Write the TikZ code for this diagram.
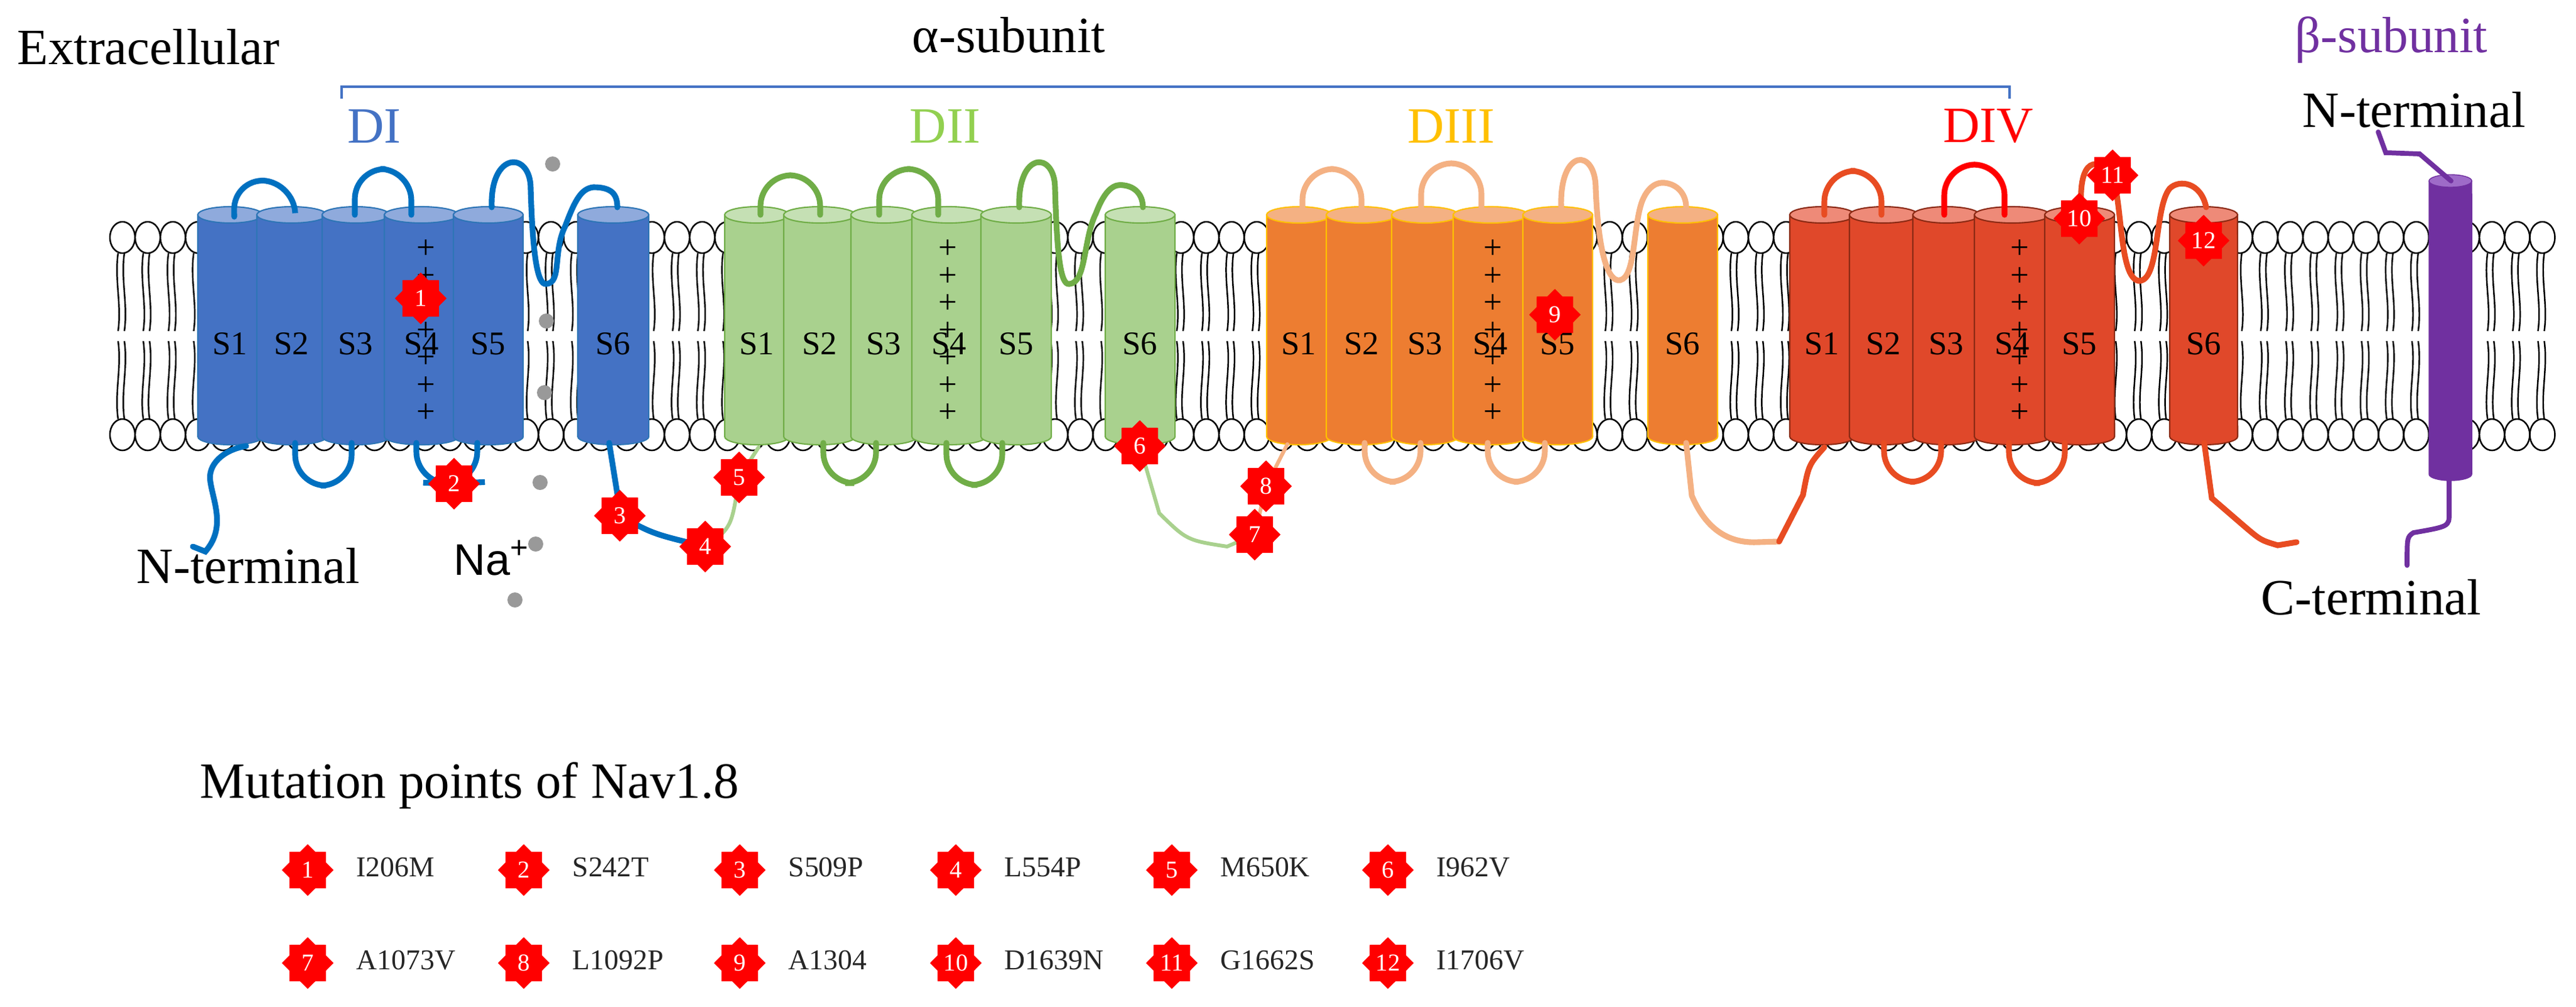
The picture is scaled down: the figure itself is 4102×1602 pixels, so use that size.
\documentclass[tikz,border=0pt]{standalone}
\usepackage{fontspec}
\setmainfont{Liberation Serif}
\newfontfamily\sansf{Liberation Sans}
\usetikzlibrary{shapes.geometric}
\definecolor{dIbody}{HTML}{4472C4}\definecolor{dIedge}{HTML}{2E75B6}\definecolor{dItop}{HTML}{8FAADC}\definecolor{dIloop}{HTML}{0070C0}
\definecolor{dIIbody}{HTML}{A9D18E}\definecolor{dIIedge}{HTML}{70AD47}\definecolor{dIItop}{HTML}{C5E0B4}\definecolor{dIIloop}{HTML}{70AD47}
\definecolor{dIIIbody}{HTML}{ED7D31}\definecolor{dIIIedge}{HTML}{FFC000}\definecolor{dIIItop}{HTML}{F4B183}\definecolor{dIIIloop}{HTML}{F4B183}
\definecolor{dIVbody}{HTML}{E0482A}\definecolor{dIVedge}{HTML}{8B2A14}\definecolor{dIVtop}{HTML}{EE8A78}\definecolor{dIVloop}{HTML}{E84C22}
\definecolor{purp}{HTML}{7030A0}\definecolor{purptop}{HTML}{9E6BC8}
\definecolor{lblII}{HTML}{92D050}\definecolor{lblIII}{HTML}{FFC000}
\newcommand\mycyl[5]{%
 \filldraw[fill=#3,draw=#4,line width=0.6pt] (#1,342) -- (#1,695) arc[start angle=180,end angle=360,x radius={(#2-#1)*0.005cm},y radius=0.13cm] -- (#2,342) -- cycle;
 \filldraw[fill=#5,draw=#4,line width=0.6pt] ({(#1+#2)/2},342) ellipse[x radius={(#2-#1)*0.005cm},y radius=0.13cm];}
\begin{document}
\begin{tikzpicture}[x=0.01cm,y=-0.01cm,
  big/.style={font=\fontsize{23}{27}\selectfont},
  seg/.style={font=\fontsize{15}{18}\selectfont},
  pl/.style={font=\fontsize{15}{18}\selectfont,inner sep=0},
  leg/.style={font=\fontsize{13}{16}\selectfont,anchor=base west,inner sep=0,text=black!85},
  mut/.style={star,star points=8,star point ratio=1.3,fill=red,draw=none,minimum size=0.82cm,inner sep=0,text=white,font=\fontsize{11}{12}\selectfont},
  loop/.style={line width=2.6pt,rounded corners=14,line cap=round},
  thin/.style={line width=1.7pt,line cap=round},
  dot/.style={circle,fill=black!40,minimum size=0.24cm,inner sep=0}]
\useasboundingbox (0,0) rectangle (4102,1602);
% lipid bilayer
\foreach \i in {0,...,96}{
  \pgfmathsetmacro\x{195+40.14*\i}
  \draw[line width=0.7pt] ({\x-7},403) .. controls ({\x-13},445) and ({\x-1},485) .. ({\x-7},527);
  \draw[line width=0.7pt] ({\x+3},403) .. controls ({\x-3},445) and ({\x+9},485) .. ({\x+3},527);
  \draw[line width=0.7pt] ({\x-7},543) .. controls ({\x-1},585) and ({\x-13},625) .. ({\x-7},667);
  \draw[line width=0.7pt] ({\x+3},543) .. controls ({\x+9},585) and ({\x-3},625) .. ({\x+3},667);
  \draw[line width=0.7pt,fill=white] (\x,378) ellipse[x radius=0.2cm,y radius=0.25cm];
  \draw[line width=0.7pt,fill=white] (\x,692) ellipse[x radius=0.2cm,y radius=0.25cm];
}
% cylinders
\mycyl{315}{418}{dIbody}{dIedge}{dItop}\mycyl{409}{520}{dIbody}{dIedge}{dItop}\mycyl{513}{620}{dIbody}{dIedge}{dItop}
\mycyl{612}{730}{dIbody}{dIedge}{dItop}\mycyl{722}{833}{dIbody}{dIedge}{dItop}\mycyl{920}{1033}{dIbody}{dIedge}{dItop}
\mycyl{1154}{1256}{dIIbody}{dIIedge}{dIItop}\mycyl{1248}{1362}{dIIbody}{dIIedge}{dIItop}\mycyl{1355}{1460}{dIIbody}{dIIedge}{dIItop}
\mycyl{1452}{1570}{dIIbody}{dIIedge}{dIItop}\mycyl{1562}{1674}{dIIbody}{dIIedge}{dIItop}\mycyl{1760}{1871}{dIIbody}{dIIedge}{dIItop}
\mycyl{2017}{2120}{dIIIbody}{dIIIedge}{dIIItop}\mycyl{2112}{2224}{dIIIbody}{dIIIedge}{dIIItop}\mycyl{2216}{2322}{dIIIbody}{dIIIedge}{dIIItop}
\mycyl{2314}{2433}{dIIIbody}{dIIIedge}{dIIItop}\mycyl{2425}{2536}{dIIIbody}{dIIIedge}{dIIItop}\mycyl{2624}{2735}{dIIIbody}{dIIIedge}{dIIItop}
\mycyl{2850}{2953}{dIVbody}{dIVedge}{dIVtop}\mycyl{2945}{3054}{dIVbody}{dIVedge}{dIVtop}\mycyl{3046}{3152}{dIVbody}{dIVedge}{dIVtop}
\mycyl{3144}{3264}{dIVbody}{dIVedge}{dIVtop}\mycyl{3256}{3367}{dIVbody}{dIVedge}{dIVtop}\mycyl{3455}{3563}{dIVbody}{dIVedge}{dIVtop}
% beta subunit cylinder
\filldraw[fill=purp,draw=purp] (3868,288) -- (3868,755) arc[start angle=180,end angle=360,x radius=0.34cm,y radius=0.1cm] -- (3936,288) -- cycle;
\filldraw[fill=purptop,draw=purp] (3902,288) ellipse[x radius=0.34cm,y radius=0.1cm];
% segment labels
\foreach \c/\t in {366/S1,464/S2,566/S3,671/S4,777/S5,976/S6,1205/S1,1305/S2,1407/S3,1511/S4,1618/S5,1815/S6,2068/S1,2168/S2,2269/S3,2373/S4,2480/S5,2679/S6,2901/S1,2999/S2,3099/S3,3204/S4,3311/S5,3509/S6}
  \node[seg] at (\c,547) {\t};
\foreach \c in {678,1509,2377,3216}
  \foreach \k in {0,...,6}
    \node[pl] at (\c,{397+43.5*\k}) {+};
% star positions
\coordinate (p1) at (670,475);\coordinate (p2) at (723,770);\coordinate (p3) at (987,821);\coordinate (p4) at (1123,870);
\coordinate (p5) at (1177,760);\coordinate (p6) at (1815,710);\coordinate (p7) at (1998,851);\coordinate (p8) at (2016,774);
\coordinate (p9) at (2476,501);\coordinate (p10) at (3311,348);\coordinate (p11) at (3364,279);\coordinate (p12) at (3509,383);
\coordinate (ntA) at (307,870);\coordinate (jn) at (2833,862);\coordinate (ctA) at (3657,863);
\coordinate (ntB) at (3787,210);\coordinate (ctB) at (3833,900);
% DI loops
\begin{scope}[draw=dIloop]
\draw[loop] (373,345) -- (372,285) -- (468,290) -- (470,338);
\draw[loop] (565,342) -- (565,268) -- (655,270) -- (655,342);
\draw[loop,rounded corners=0] (783,330) .. controls (780,240) and (845,240) .. (845,300) .. controls (848,400) and (855,455) .. (870,452) .. controls (895,450) and (880,400) .. (900,360) .. controls (915,320) and (925,300) .. (945,298) .. controls (975,298) and (983,310) .. (983,330);
\draw[loop] (470,705) -- (470,773) -- (560,773) -- (560,705);
\draw[loop] (663,705) -- (663,768) -- (p2) -- (760,768) -- (760,705);
\draw[loop,rounded corners=0] (ntA) -- (327,878) .. controls (360,840) and (340,800) .. (335,767) .. controls (330,740) and (355,716) .. (392,710);
\draw[loop,rounded corners=0] (970,705) -- (983,786) -- (p3) .. controls (1040,850) .. (p4);
\end{scope}
\draw[thin,dIIbody] (p4) .. controls (1165,840) .. (p5) -- (1208,712);
% DII loops
\begin{scope}[draw=dIIloop]
\draw[loop] (1211,342) -- (1211,279) -- (1306,279) -- (1306,342);
\draw[loop] (1400,342) -- (1400,269) -- (1494,269) -- (1494,342);
\draw[loop,rounded corners=0] (1623,330) .. controls (1620,240) and (1680,240) .. (1680,300) .. controls (1683,400) and (1688,455) .. (1703,452) .. controls (1730,450) and (1725,380) .. (1745,340) .. controls (1760,300) and (1775,292) .. (1790,295) .. controls (1812,298) and (1820,315) .. (1820,330);
\draw[loop] (1311,705) -- (1311,769) -- (1395,769) -- (1395,705);
\draw[loop] (1507,705) -- (1507,772) -- (1596,772) -- (1596,705);
\end{scope}
\draw[thin,dIIbody] (1815,700) -- (p6) -- (1846,817) .. controls (1890,860) .. (1954,870) -- (p7);
\draw[thin,dIIIloop] (p7) -- (p8) -- (2050,707);
% DIII loops
\begin{scope}[draw=dIIIloop]
\draw[loop] (2074,342) -- (2074,269) -- (2168,269) -- (2168,342);
\draw[loop] (2263,342) -- (2263,260) -- (2359,260) -- (2359,342);
\draw[loop,rounded corners=0] (2486,330) .. controls (2483,235) and (2541,235) .. (2541,300) .. controls (2545,400) and (2560,450) .. (2580,446) .. controls (2605,440) and (2600,360) .. (2615,320) .. controls (2625,295) and (2640,290) .. (2650,291) .. controls (2672,293) and (2685,310) .. (2685,330);
\draw[loop] (2173,705) -- (2173,767) -- (2262,767) -- (2262,705);
\draw[loop] (2369,705) -- (2369,767) -- (2460,767) -- (2460,705);
\draw[loop,rounded corners=0] (2685,705) -- (2694,789) .. controls (2720,850) and (2760,865) .. (2800,863) -- (jn);
\end{scope}
% DIV loops
\begin{scope}[draw=dIVloop]
\draw[loop] (2905,342) -- (2905,272) -- (2996,272) -- (2996,342);
\draw[loop,draw=red] (3096,342) -- (3096,262) -- (3192,262) -- (3192,342);
\draw[loop] (3000,705) -- (3000,767) -- (3091,767) -- (3091,705);
\draw[loop] (3199,705) -- (3199,769) -- (3288,769) -- (3288,705);
\draw[loop,rounded corners=0] (jn) -- (2871,788) .. controls (2880,740) .. (2905,712);
\draw[loop,rounded corners=0] (3314,330) .. controls (3310,250) and (3340,250) .. (p11) .. controls (3380,330) and (3375,440) .. (3405,447) .. controls (3440,450) and (3430,330) .. (3455,300) .. controls (3470,285) and (3505,290) .. (3513,330);
\draw[loop,rounded corners=0] (3510,705) -- (3522,793) -- (3573,837) .. controls (3600,860) .. (3627,868) -- (ctA);
\end{scope}
% beta subunit termini
\draw[line width=2.2pt,purp,line cap=round] (ntB) -- (3799,243) -- (3853,245) -- (3903,288);
\draw[line width=2.2pt,purp,line cap=round] (3900,765) -- (3900,817) .. controls (3900,838) .. (3843,848) .. controls (3833,855) .. (ctB);
% stars
\foreach \n in {1,...,12} \node[mut] (m\n) at (p\n) {\n};
% Na dots
\foreach \p [count=\j] in {(880,261),(870,511),(867,625),(860,768),(853,866),(820,955)} \node[dot] (d\j) at \p {};
\node[anchor=base west,inner sep=0,font=\sansf\fontsize{20}{24}\selectfont] (na) at (722,915) {Na\textsuperscript{+}};
% texts
\node[big,anchor=base west,inner sep=0] (ext) at (27,102) {Extracellular};
\node[big,anchor=base west,inner sep=0] (alpha) at (1452,83) {α-subunit};
\node[big,anchor=base west,inner sep=0,text=purp] (beta) at (3654,83) {β-subunit};
\draw[dIbody,line width=0.9pt] (544,157) -- (544,138) -- (3200,138) -- (3200,157);
\node[big,text=dIbody] (DI) at (596,201) {DI};
\node[big,text=lblII] (DII) at (1505,201) {DII};
\node[big,text=lblIII] (DIII) at (2311,201) {DIII};
\node[big,text=red] (DIV) at (3166,201) {DIV};
\node[big,anchor=base west,inner sep=0] (ntl) at (217,928) {N-terminal};
\node[big,anchor=base west,inner sep=0] (ntr) at (3666,202) {N-terminal};
\node[big,anchor=base west,inner sep=0] (ctl) at (3600,978) {C-terminal};
% legend
\node[big,anchor=base west,inner sep=0] (legt) at (318,1270) {Mutation points of Nav1.8};
\foreach \t [count=\k] in {I206M,S242T,S509P,L554P,M650K,I962V}{
  \node[mut] (l\k) at ({490+344*(\k-1)},1385) {\k};
  \node[leg] at ({567+344*(\k-1)},1395) {\t};}
\foreach \t [count=\k] in {A1073V,L1092P,A1304,D1639N,G1662S,I1706V}{
  \pgfmathtruncatemacro\nn{\k+6}
  \node[mut] (l\nn) at ({490+344*(\k-1)},1533) {\nn};
  \node[leg] at ({567+344*(\k-1)},1543) {\t};}
\end{tikzpicture}
\end{document}
